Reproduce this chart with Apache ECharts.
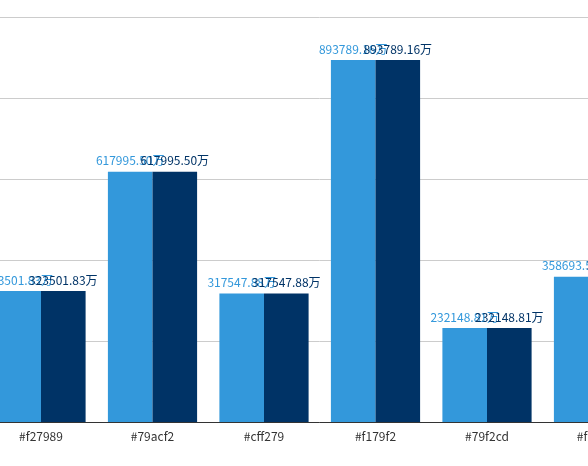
<!DOCTYPE html>
<html>
<head>
<meta charset="utf-8">
<script src="https://cdn.jsdelivr.net/npm/echarts@6/dist/echarts.min.js"></script>
<style>
html,body{margin:0;padding:0;background:#fff;overflow:hidden;width:588px;height:466px;}
#main{position:absolute;left:-100px;top:0;width:800px;height:466px;}
</style>
</head>
<body>
<div id="main"></div>
<script>
const categories = ['#f27989', '#79acf2', '#cff279', '#f179f2', '#79f2cd', '#f2c779'];
const seriesA = [323501.83, 617995.50, 317547.88, 893789.16, 232148.81, 358693.52];
const seriesB = [323501.83, 617995.50, 317547.88, 893789.16, 232148.81, 358693.52];
const yTicks = { min: 0, max: 1000000, interval: 200000 };

const chart = echarts.init(document.getElementById('main'));
const fontFam = '"Noto Sans CJK SC", "Noto Sans", sans-serif';
const fmt = p => p.value.toFixed(2) + '万';
chart.setOption({
  animation: false,
  grid: { left: 85.25, right: 45.75, top: 17, bottom: 44, containLabel: false },
  xAxis: {
    type: 'category',
    data: categories,
    axisLine: { lineStyle: { color: '#333' } },
    axisTick: { alignWithLabel: true, lineStyle: { color: '#333' } },
    axisLabel: { color: '#333', fontSize: 12, fontFamily: fontFam }
  },
  yAxis: {
    type: 'value',
    min: yTicks.min, max: yTicks.max, interval: yTicks.interval,
    axisLine: { show: false },
    axisTick: { show: false },
    splitLine: { lineStyle: { color: '#ccc' } },
    axisLabel: { show: false }
  },
  series: [
    {
      type: 'bar', data: seriesA, barGap: 0, barCategoryGap: '20%',
      itemStyle: { color: '#3398DB' },
      label: { show: true, position: 'top', color: '#3398DB', fontSize: 12, fontFamily: fontFam, formatter: fmt }
    },
    {
      type: 'bar', data: seriesB, barGap: 0, barCategoryGap: '20%',
      itemStyle: { color: '#003366' },
      label: { show: true, position: 'top', color: '#003366', fontSize: 12, fontFamily: fontFam, formatter: fmt }
    }
  ]
});
</script>
</body>
</html>
